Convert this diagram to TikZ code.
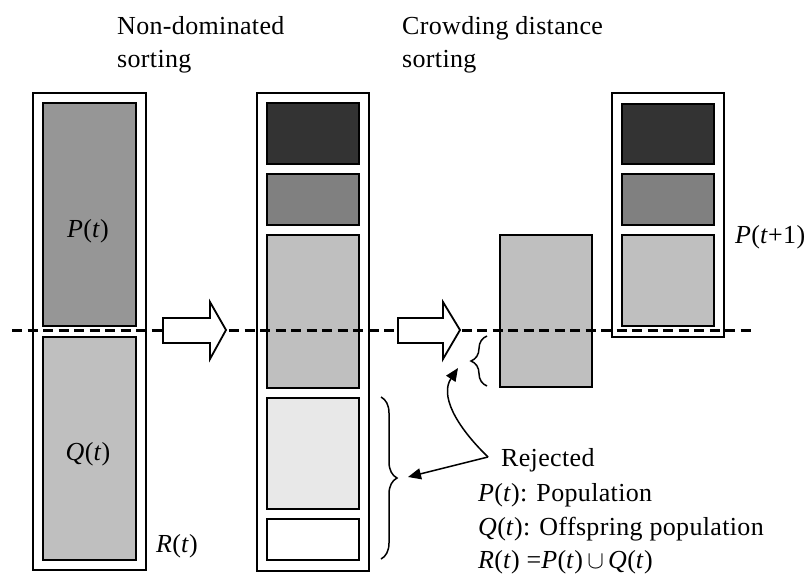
\documentclass[tikz,border=0pt]{standalone}
\usepackage{fontspec}
\setmainfont[LetterSpace=1.3]{Liberation Serif}
\usetikzlibrary{arrows.meta,decorations.pathreplacing}
\definecolor{popgray}{gray}{0.59}
\definecolor{offgray}{gray}{0.75}
\definecolor{frontA}{gray}{0.2}
\definecolor{frontB}{gray}{0.5}
\definecolor{frontD}{gray}{0.91}
\newcommand{\tx}[1]{\textit{#1}}

\begin{document}
\begin{tikzpicture}[x=1pt,y=-1pt,
    frame/.style={draw,line width=1.6pt,fill=white,inner sep=0pt,anchor=north west},
    blk/.style={draw,line width=2.2pt,inner sep=0pt,anchor=north west},
    brc/.style={decorate,decoration={brace,amplitude=16pt},line width=1.5pt},
    rej/.style={line width=1.5pt,-{Triangle[length=13pt,width=11pt]}},
    txt/.style={font=\fontsize{26}{33}\selectfont,inner sep=0pt,anchor=base west}]
  \useasboundingbox (0,0) rectangle (805,581);
  % R(t) = P(t) + Q(t)
  \node[frame,minimum width=113,minimum height=477] (R) at (32,92) {};
  \node[blk,fill=popgray,minimum width=93,minimum height=223] (P) at (42,102) {};
  \node[blk,fill=offgray,minimum width=93,minimum height=223] (Q) at (42,336) {};
  \node[txt,anchor=base] (Pl) at (88,237) {\tx{P}(\tx{t})};
  \node[txt,anchor=base] (Ql) at (88,460) {\tx{Q}(\tx{t})};
  \node[txt] (Rl) at (156,552) {\tx{R}(\tx{t})};
  % fronts after non-dominated sorting
  \node[frame,minimum width=112,minimum height=478] (F) at (256,92) {};
  \node[blk,fill=frontA,minimum width=92,minimum height=61] (F1) at (266,102) {};
  \node[blk,fill=frontB,minimum width=92,minimum height=51] (F2) at (266,173) {};
  \node[blk,fill=offgray,minimum width=92,minimum height=153] (F3) at (266,234) {};
  \node[blk,fill=frontD,minimum width=92,minimum height=111] (F4) at (266,397) {};
  \node[blk,fill=white,minimum width=92,minimum height=41] (F5) at (266,518) {};
  % last front, sorted by crowding distance
  \node[blk,fill=offgray,minimum width=92,minimum height=152] (C) at (499,234) {};
  % P(t+1)
  \node[frame,minimum width=112,minimum height=244] (N) at (611,92) {};
  \node[blk,fill=frontA,minimum width=92,minimum height=60] (N1) at (621,103) {};
  \node[blk,fill=frontB,minimum width=92,minimum height=51] (N2) at (621,173) {};
  \node[blk,fill=offgray,minimum width=92,minimum height=91] (N3) at (621,234) {};
  \node[txt] (Nl) at (735,243) {\tx{P}(\tx{t}+1)};
  % cut line
  \draw[line width=3pt,dash pattern=on 10pt off 5.5pt] (12,330) -- (752,330);
  \draw[line width=1.8pt,fill=white] (163,318) -- ++(47,0) -- ++(0,-16) -- (226,330)
    -- (210,359) -- ++(0,-16) -- (163,343) -- cycle;
  \draw[line width=1.8pt,fill=white] (398,318) -- ++(45,0) -- ++(0,-16) -- (460,330)
    -- (443,359) -- ++(0,-16) -- (398,343) -- cycle;
  % rejected members
  \draw[brc] (381,397) -- (381,559);
  \draw[brc] (487,386) -- (487,336);
  \coordinate (jn) at (488,457);
  \coordinate (cut1) at (408,477);
  \coordinate (cut2) at (458,368);
  \node[txt] (rejl) at (501,466) {Rejected};
  \draw[rej] (jn) -- (cut1);
  \draw[rej] (jn) .. controls (455,425) and (440,395) .. (cut2);
  % headings
  \node[txt] (h1a) at (117,34) {Non-dominated};
  \node[txt] (h1b) at (117,67) {sorting};
  \node[txt] (h2a) at (402,34) {Crowding distance};
  \node[txt] (h2b) at (402,67) {sorting};
  % legend
  \node[txt] (lgP) at (478,501) {\tx{P}(\tx{t}): Population};
  \node[txt] (lgQ) at (478,535) {\tx{Q}(\tx{t}): Offspring population};
  \node[txt] (lgR) at (478,568) {\tx{R}(\tx{t}) =\tx{P}(\tx{t})\,$\cup$\,\tx{Q}(\tx{t})};
\end{tikzpicture}
\end{document}
